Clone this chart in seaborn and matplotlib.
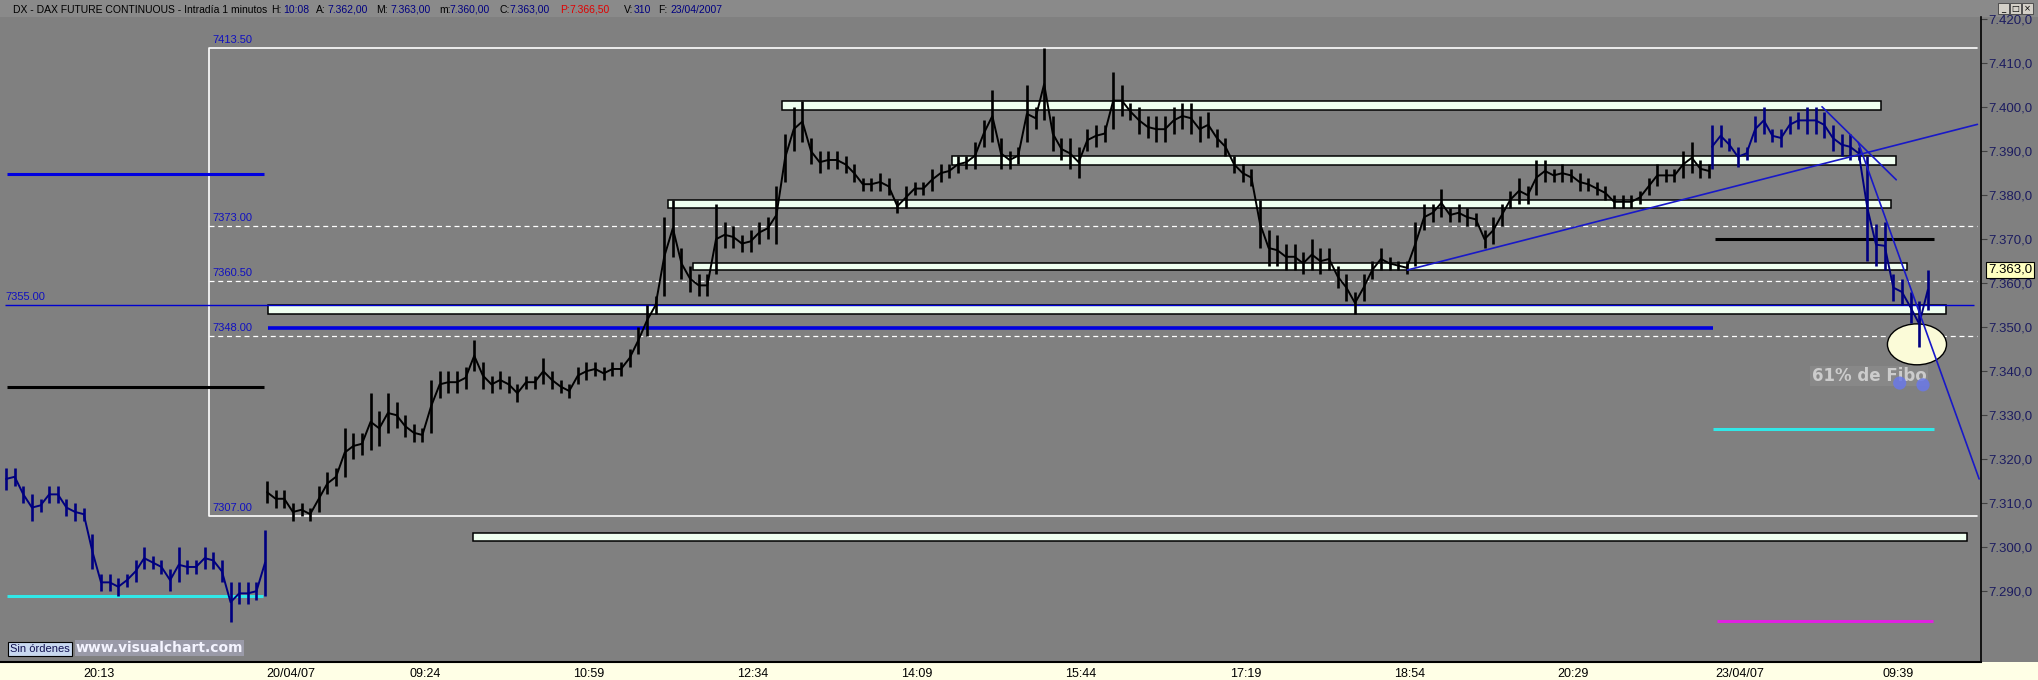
import numpy as np
import pandas as pd
import matplotlib
matplotlib.use("Agg")
import matplotlib.pyplot as plt
from matplotlib.patches import Rectangle, Ellipse
from matplotlib.transforms import blended_transform_factory
import seaborn as sns

# --- data: 5 minute high/low bars ---
D1_HIGH = [7318, 7318, 7314, 7312, 7311, 7314, 7314, 7311, 7310, 7309, 7303, 7294, 7294, 7293, 7294, 7297,
           7300, 7298, 7297, 7295, 7300, 7297, 7297, 7300, 7299, 7297, 7292, 7292, 7292, 7292, 7304]
D1_LOW = [7313, 7314, 7310, 7306, 7308, 7310, 7310, 7307, 7306, 7306, 7295, 7290, 7290, 7289, 7291, 7292,
          7295, 7295, 7294, 7290, 7292, 7294, 7294, 7295, 7295, 7292, 7283, 7287, 7287, 7288, 7289]

D2_HIGH = [7315, 7313, 7313, 7310, 7310, 7309, 7314, 7317, 7318, 7327,
           7326, 7326, 7335, 7331, 7335, 7333, 7330, 7328, 7327, 7338,
           7340, 7340, 7340, 7341, 7347, 7342, 7339, 7340, 7339, 7337,
           7339, 7339, 7343, 7340, 7338, 7337, 7341, 7342, 7342, 7341,
           7342, 7342, 7345, 7350, 7355, 7357, 7375, 7379, 7368, 7364,
           7362, 7362, 7378, 7374, 7373, 7371, 7372, 7374, 7375, 7382,
           7394, 7400, 7401.5, 7393, 7390, 7390, 7390, 7389, 7387, 7384,
           7384, 7385, 7384, 7379, 7382, 7383, 7383, 7386, 7387, 7387,
           7389, 7389, 7392, 7397, 7404, 7393, 7390, 7391, 7405, 7400,
           7413.5, 7398, 7393, 7393, 7391, 7395, 7396, 7396, 7408, 7405,
           7401, 7400, 7398, 7398, 7398, 7400, 7401, 7401, 7398, 7399,
           7395, 7393, 7389, 7387, 7386, 7379, 7372, 7371, 7369, 7369,
           7367, 7370, 7368, 7368, 7364, 7362, 7358, 7362, 7365, 7368,
           7366, 7365, 7365, 7374, 7378, 7378, 7381.5, 7377, 7378, 7377,
           7376, 7372, 7375, 7378, 7381, 7384, 7382, 7388, 7388, 7386,
           7387, 7386, 7385, 7384, 7383, 7382, 7380, 7380, 7380, 7381,
           7384, 7387, 7386, 7386, 7390, 7392, 7388, 7387]
D2_LOW = [7310, 7309, 7309, 7306, 7307, 7306, 7308, 7312, 7314, 7316,
          7320, 7321, 7322, 7323, 7326, 7327, 7325, 7324, 7324, 7326,
          7334, 7335, 7335, 7336, 7340, 7336, 7335, 7336, 7335, 7333,
          7336, 7336, 7337, 7336, 7335, 7334, 7337, 7338, 7339, 7338,
          7339, 7339, 7341, 7344, 7348, 7353, 7357, 7366, 7361, 7358,
          7357, 7357, 7362, 7368, 7368, 7367, 7367, 7369, 7370, 7369,
          7383, 7390, 7392, 7387, 7385, 7386, 7386, 7385, 7383, 7381,
          7381, 7381, 7380, 7376, 7377, 7380, 7380, 7381, 7383, 7384,
          7385, 7386, 7386, 7391, 7392, 7386, 7386, 7387, 7392, 7395,
          7397, 7390, 7388, 7386, 7384, 7390, 7391, 7392, 7395, 7398,
          7397, 7394, 7393, 7392, 7392, 7394, 7395, 7394, 7392, 7393,
          7391, 7389, 7385, 7383, 7382, 7368, 7364, 7364, 7363, 7363,
          7362, 7363, 7362, 7363, 7359, 7356, 7353, 7356, 7361, 7363,
          7363, 7363, 7362, 7364, 7372, 7374, 7375, 7374, 7374, 7373,
          7373, 7368, 7369, 7373, 7377, 7378, 7378, 7380, 7383, 7383,
          7383, 7383, 7381, 7381, 7380, 7379, 7377, 7377, 7377, 7378,
          7380, 7382, 7383, 7383, 7384, 7385, 7384, 7384]

D3_HIGH = [7396, 7396, 7393, 7391, 7391, 7398, 7400, 7395, 7395, 7398, 7399, 7400, 7400,
           7399, 7396, 7394, 7394, 7391, 7389, 7373.5, 7374, 7362, 7361, 7358, 7356, 7363]
D3_LOW = [7386, 7391, 7390, 7386.5, 7388, 7392, 7394, 7392, 7391, 7394, 7395, 7394, 7394,
          7393, 7390, 7389, 7388, 7388, 7365, 7364, 7363, 7356, 7355, 7351, 7345.5, 7354]

# session start (minute index) of each block of bars
SESSION_START = [3.5, 154.6, 991.3]
BAR_MINUTES = 5

# x axis labels (minute index, text)
TICK_POS = [48, 154, 237, 332, 427, 522, 617, 712, 807, 902, 993, 1090]
TICK_LABELS = ["20:13", "20/04/07", "09:24", "10:59", "12:34", "14:09", "15:44",
               "17:19", "18:54", "20:29", "23/04/07", "09:39"]

# drawn objects: support zones (low, high, start, end)
ZONE_LOW = [7399.4, 7386.9, 7377.0, 7363.0, 7353.0, 7301.4]
ZONE_HIGH = [7401.3, 7388.8, 7378.8, 7364.5, 7355.1, 7303.2]
ZONE_START = [453, 551, 387, 401, 155, 274]
ZONE_END = [1089, 1098, 1095, 1104, 1127, 1139]

# box of the fibonacci retracement
FIBO_TOP, FIBO_BOTTOM = 7413.5, 7307.0
FIBO_LEVELS = [7373.0, 7360.5, 7348.0]
FIBO_START, FIBO_END = 121, 1145

# horizontal lines: (price, start, end, colour, width)
H_PRICE = [7355.0, 7384.8, 7336.5, 7288.8, 7349.8, 7370.0, 7326.8, 7283.2]
H_START = [3, 4, 4, 4, 155, 993, 992, 994]
H_END = [1143, 153, 153, 152, 992, 1120, 1120, 1119]
H_COLOR = ["#0000d0", "#0000e0", "#000000", "#30e8e8", "#0000e0", "#000000", "#30e8e8", "#e020e0"]
H_WIDTH = [1.0, 2.2, 2.2, 2.2, 2.6, 2.2, 2.2, 2.2]

# trend lines ((x0, x1), (y0, y1))
TREND_X = [(815, 1145), (1055, 1098), (1076, 1146)]
TREND_Y = [(7363.0, 7396.1), (7400.1, 7383.5), (7392.0, 7315.5)]

LAST_PRICE = 7363.0

BG = "#808080"
NAVY = "#000080"

sns.set_style("dark", {"axes.facecolor": BG, "figure.facecolor": BG})
plt.rcParams['font.family'] = ['Liberation Sans', 'DejaVu Sans']

fig = plt.figure(figsize=(20.38, 6.8), dpi=100)
ax = fig.add_axes([0, 18 / 680, 1981 / 2038, (662 - 17) / 680])
ax.set_facecolor(BG)
ax.set_zorder(2)

# header strip and bottom date strip
fig.patches.append(Rectangle((0, 663 / 680), 1, 17 / 680, transform=fig.transFigure,
                             facecolor="#8a8a8a", edgecolor="none", zorder=-1))
fig.patches.append(Rectangle((0, 0), 1, 18 / 680, transform=fig.transFigure,
                             facecolor="#ffffe6", edgecolor="none", zorder=-1))

# fibonacci box
ax.plot([FIBO_END, FIBO_START, FIBO_START, FIBO_END], [FIBO_TOP, FIBO_TOP, FIBO_BOTTOM, FIBO_BOTTOM],
        color="white", lw=1.2, zorder=2)
for lv in FIBO_LEVELS:
    ax.plot([FIBO_START, FIBO_END], [lv, lv], color="white", lw=0.9, ls=(0, (4, 3)), zorder=2)
for lv in [FIBO_TOP] + FIBO_LEVELS + [FIBO_BOTTOM]:
    ax.text(FIBO_START + 2, lv + 0.7, f"{lv:.2f}", color="#1010c0", fontsize=8, va="bottom", ha="left", zorder=3)
ax.text(3, 7355.0 + 0.7, "7355.00", color="#1010c0", fontsize=8, va="bottom", ha="left", zorder=3)

# zones
for lo, hi, x0, x1 in zip(ZONE_LOW, ZONE_HIGH, ZONE_START, ZONE_END):
    ax.add_patch(Rectangle((x0, lo), x1 - x0, hi - lo, facecolor="#effff0", edgecolor="black", lw=1.1, zorder=3))

for p, x0, x1, c, w in zip(H_PRICE, H_START, H_END, H_COLOR, H_WIDTH):
    ax.plot([x0, x1], [p, p], color=c, lw=w, zorder=4, solid_capstyle="butt")

# ellipse and note
ax.add_patch(Ellipse((1110, 7346.1), 34.2, 9.3, facecolor="#fbfbd8", edgecolor="black", lw=1.0, zorder=4))
ax.text(1049, 7338.9, "61% de Fibo", color="#cccccc", fontsize=12, fontweight="bold",
        family="DejaVu Sans", va="center", ha="left", zorder=5,
        bbox=dict(facecolor="#888888", edgecolor="none", pad=1))
ax.scatter([1100, 1113.5], [7337.3, 7336.9], s=90, color="#6a78e8", alpha=0.85, edgecolor="none", zorder=6)

# price bars
blocks = [(D1_HIGH, D1_LOW, NAVY), (D2_HIGH, D2_LOW, "black"), (D3_HIGH, D3_LOW, NAVY)]
for (hi, lo, col), start in zip(blocks, SESSION_START):
    df = pd.DataFrame({"high": hi, "low": lo})
    df["t"] = start + BAR_MINUTES * np.arange(len(df))
    df["mid"] = (df["high"] + df["low"]) / 2
    ax.vlines(df["t"], df["low"], df["high"], color=col, lw=1.9, zorder=7)
    sns.lineplot(data=df, x="t", y="mid", ax=ax, color=col, lw=1.4, zorder=7, legend=False)

for (x0, x1), (y0, y1) in zip(TREND_X, TREND_Y):
    ax.plot([x0, x1], [y0, y1], color="#1818c8", lw=1.2, zorder=8)

# axes
ax.set_xlim(0, 1981 / 1.727)
ax.set_ylim(7273.9, 7420.5)
ax.set_xlabel("")
ax.set_ylabel("")
ax.yaxis.tick_right()
yt = np.arange(7290, 7421, 10)
ax.set_yticks(yt)
ax.set_yticklabels([f"{v // 1000}.{v % 1000:03d},0" for v in yt], color="#1c1c60", fontsize=9.5)
ax.tick_params(axis="y", direction="out", length=4, color="#404040", pad=1)
ax.set_xticks(TICK_POS)
ax.set_xticklabels(TICK_LABELS, fontsize=9, ha="left", color="black")
ax.tick_params(axis="x", direction="inout", length=8, color="#303030", pad=0)
ax.grid(False)
for s in ["top", "left"]:
    ax.spines[s].set_visible(False)
ax.spines["bottom"].set_color("black")
ax.spines["bottom"].set_linewidth(1.5)
ax.spines["right"].set_color("black")
ax.spines["right"].set_linewidth(1.2)

# last price tag
tr = blended_transform_factory(ax.transAxes, ax.transData)
ax.text(1.0035, LAST_PRICE, "7.363,0", transform=tr, fontsize=9.5, color="black", va="center", ha="left",
        bbox=dict(facecolor="#ffffc0", edgecolor="black", pad=1.5, lw=0.8), zorder=10, clip_on=False)

# header text
header = [(13, "DX - DAX FUTURE CONTINUOUS - Intradía 1 minutos", "black"),
          (271, "H:", "black"), (283, "10:08", NAVY),
          (316, "A:", "black"), (327, "7.362,00", NAVY),
          (376, "M:", "black"), (390, "7.363,00", NAVY),
          (439, "m:", "black"), (449, "7.360,00", NAVY),
          (500, "C:", "black"), (509, "7.363,00", NAVY),
          (560, "P:", "#e00000"), (569, "7.366,50", "#e00000"),
          (624, "V:", "black"), (634, "310", NAVY),
          (658, "F:", "black"), (670, "23/04/2007", NAVY)]
for xp, txt, col in header:
    fig.text(xp / 2038, 1 - 10 / 680, txt, color=col, fontsize=7.5, va="center", ha="left")

# window buttons
for i, sym in enumerate(["_", "□", "×"]):
    x0 = (1998 + i * 12) / 2038
    fig.patches.append(Rectangle((x0, 1 - 14 / 680), 11 / 2038, 11 / 680, transform=fig.transFigure,
                                 facecolor="#d4d0c8", edgecolor="#404040", lw=0.6))
    fig.text(x0 + 5.5 / 2038, 1 - 8.5 / 680, sym, fontsize=6, ha="center", va="center", color="black",
             family=["DejaVu Sans"])

# order box and site mark
fig.text(10 / 2038, 31 / 680, "Sin órdenes", fontsize=8, color="#101050", va="center", ha="left",
         bbox=dict(facecolor="#c8d8f0", edgecolor="black", pad=1.5, lw=0.8), zorder=5)
fig.text(76 / 2038, 32 / 680, "www.visualchart.com", fontsize=10, fontweight="bold", family="DejaVu Sans",
         color="#f4f4ff", va="center", ha="left",
         bbox=dict(facecolor="#9a9aa8", edgecolor="none", pad=0.5), zorder=5)

fig.savefig("out.png", dpi=100, facecolor=BG)
